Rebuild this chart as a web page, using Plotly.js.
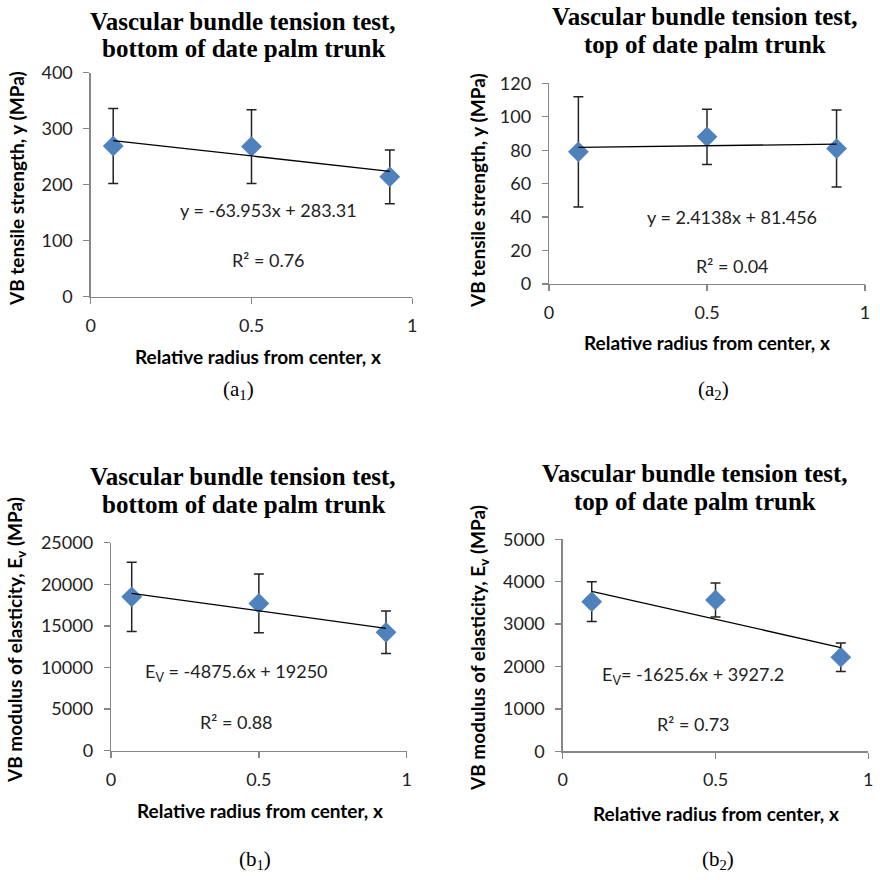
<!DOCTYPE html>
<html><head><meta charset="utf-8">
<script src="https://cdn.plot.ly/plotly-3.0.1.min.js"></script>
<style>body{margin:0;background:#fff}#c{width:880px;height:880px}</style>
</head><body><div id="c"></div>
<script>
// Data
const xA1 = [0.07, 0.5, 0.93];
const yA1 = [269, 268, 214];
const eA1 = [67, 66, 48];
const xA2 = [0.093, 0.5, 0.91];
const yA2 = [79, 88, 81];
const eA2 = [33, 16.5, 23];
const xB1 = [0.07, 0.5, 0.93];
const yB1 = [18500, 17700, 14230];
const eB1 = [4160, 3530, 2560];
const xB2 = [0.095, 0.5, 0.91];
const yB2 = [3530, 3570, 2220];
const eB2 = [470, 400, 335];
const slopes = [-63.953, 2.4138, -4875.6, -1625.6];
const intercepts = [283.31, 81.456, 19250, 3927.2];
const xTicks = [0, 0.5, 1];
const yDticks = [100, 20, 5000, 1000];
const yMax = [400, 120, 25000, 5000];

const W = 880;
const px = v => v / W;
const py = v => 1 - v / W;

const panels = [
  {x: xA1, y: yA1, e: eA1, xd: [90.7, 412.3], yd: [296.7, 72.7]},
  {x: xA2, y: yA2, e: eA2, xd: [549, 865], yd: [284, 83.3]},
  {x: xB1, y: yB1, e: eB1, xd: [111, 406.7], yd: [750.7, 542.7]},
  {x: xB2, y: yB2, e: eB2, xd: [562.7, 868.3], yd: [751.3, 539.3]}
];

const traces = [];
const layout = {
  width: 880, height: 880, margin: {l: 0, r: 0, t: 0, b: 0},
  paper_bgcolor: '#fff', plot_bgcolor: 'rgba(0,0,0,0)', showlegend: false,
  font: {family: 'Lato, sans-serif', size: 18, color: '#222'},
  annotations: []
};

panels.forEach((p, i) => {
  const n = i === 0 ? '' : String(i + 1);
  const xa = 'x' + n, ya = 'y' + n;
  const xmin = Math.min(...p.x), xmax = Math.max(...p.x);
  traces.push({
    x: p.x, y: p.y, mode: 'markers', xaxis: xa, yaxis: ya,
    marker: {symbol: 'diamond', size: 16, color: '#4F81BD'},
    error_y: {type: 'data', array: p.e, visible: true, color: '#222', thickness: 1.5, width: 5}
  });
  traces.push({
    x: [xmin, xmax], y: [slopes[i] * xmin + intercepts[i], slopes[i] * xmax + intercepts[i]],
    mode: 'lines', line: {color: '#000', width: 1.3}, xaxis: xa, yaxis: ya, hoverinfo: 'skip'
  });
  const axCommon = {
    showgrid: false, zeroline: false, showline: true, linecolor: '#868686', linewidth: 1.3,
    ticks: 'outside', ticklen: 6, tickcolor: '#868686', tickwidth: 1.3,
    tickfont: {family: 'Lato, sans-serif', size: 18, color: '#222'}, fixedrange: true
  };
  layout['xaxis' + n] = Object.assign({}, axCommon, {
    domain: [px(p.xd[0]), px(p.xd[1])], range: [0, 1], anchor: ya,
    tickmode: 'array', tickvals: xTicks, ticktext: xTicks.map(String), ticklabelstandoff: 6
  });
  layout['yaxis' + n] = Object.assign({}, axCommon, {
    domain: [py(p.yd[0]), py(p.yd[1])], range: [0, yMax[i]], anchor: xa,
    tick0: 0, dtick: yDticks[i], tickformat: 'd', ticklabelstandoff: 7
  });
});

const titleFont = {family: '"Liberation Serif", "Times New Roman", serif', size: 25, color: '#000'};
const axFont = {family: 'Lato, sans-serif', size: 19, color: '#000'};
const txtFont = {family: 'Lato, sans-serif', size: 18, color: '#222'};
const labFont = {family: '"Liberation Serif", "Times New Roman", serif', size: 21, color: '#000'};

function ann(text, x, y, font, extra) {
  layout.annotations.push(Object.assign({
    text: text, x: px(x), y: py(y), xref: 'paper', yref: 'paper',
    showarrow: false, xanchor: 'center', yanchor: 'middle', font: font
  }, extra || {}));
}

// Titles (two lines each)
ann('<b>Vascular bundle tension test,</b>', 243, 21, titleFont);
ann('<b>bottom of date palm trunk</b>', 243, 48, titleFont);
ann('<b>Vascular bundle tension test,</b>', 705, 16, titleFont);
ann('<b>top of date palm trunk</b>', 705, 44, titleFont);
ann('<b>Vascular bundle tension test,</b>', 243, 476, titleFont);
ann('<b>bottom of date palm trunk</b>', 243, 504, titleFont);
ann('<b>Vascular bundle tension test,</b>', 695, 473, titleFont);
ann('<b>top of date palm trunk</b>', 695, 501, titleFont);

// Y axis titles
ann('<b>VB tensile strength, y (MPa)</b>', 16, 189, axFont, {textangle: -90});
ann('<b>VB tensile strength, y (MPa)</b>', 477, 190, axFont, {textangle: -90});
ann('<b>VB modulus of elasticity, E<sub>v</sub> (MPa)</b>', 16, 640, axFont, {textangle: -90});
ann('<b>VB modulus of elasticity, E<sub>v</sub> (MPa)</b>', 479, 648, axFont, {textangle: -90});

// X axis titles
ann('<b>Relative radius from center, x</b>', 258, 356, axFont);
ann('<b>Relative radius from center, x</b>', 707, 342, axFont);
ann('<b>Relative radius from center, x</b>', 260, 810, axFont);
ann('<b>Relative radius from center, x</b>', 716, 813, axFont);

// Equations
ann('y = -63.953x + 283.31', 268, 210, txtFont);
ann('R² = 0.76', 268, 260, txtFont);
ann('y = 2.4138x + 81.456', 732, 217, txtFont);
ann('R² = 0.04', 732, 266, txtFont);
ann('E<sub>V</sub> = -4875.6x + 19250', 236, 672, txtFont);
ann('R² = 0.88', 236, 722, txtFont);
ann('E<sub>V</sub>= -1625.6x + 3927.2', 693, 675, txtFont);
ann('R² = 0.73', 693, 724, txtFont);

// Panel labels
ann('(a<sub>1</sub>)', 238, 390, labFont);
ann('(a<sub>2</sub>)', 713, 390, labFont);
ann('(b<sub>1</sub>)', 255, 860, labFont);
ann('(b<sub>2</sub>)', 718, 860, labFont);

Plotly.newPlot('c', traces, layout, {staticPlot: true});
</script>
</body></html>
